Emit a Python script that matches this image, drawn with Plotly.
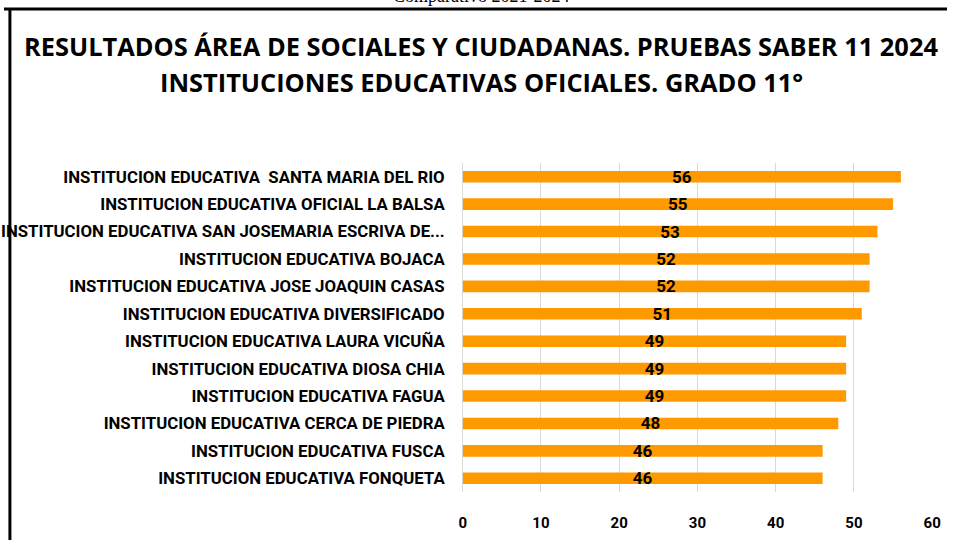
import plotly.graph_objects as go

instituciones = [
    "INSTITUCION EDUCATIVA  SANTA MARIA DEL RIO",
    "INSTITUCION EDUCATIVA OFICIAL LA BALSA",
    "INSTITUCION EDUCATIVA SAN JOSEMARIA ESCRIVA DE...",
    "INSTITUCION EDUCATIVA BOJACA",
    "INSTITUCION EDUCATIVA JOSE JOAQUIN CASAS",
    "INSTITUCION EDUCATIVA DIVERSIFICADO",
    "INSTITUCION EDUCATIVA LAURA VICUÑA",
    "INSTITUCION EDUCATIVA DIOSA CHIA",
    "INSTITUCION EDUCATIVA FAGUA",
    "INSTITUCION EDUCATIVA CERCA DE PIEDRA",
    "INSTITUCION EDUCATIVA FUSCA",
    "INSTITUCION EDUCATIVA FONQUETA",
]
puntajes = [56, 55, 53, 52, 52, 51, 49, 49, 49, 48, 46, 46]
x_ticks = [0, 10, 20, 30, 40, 50, 60]

W, H = 956, 540

fig = go.Figure(go.Bar(
    y=instituciones,
    x=puntajes,
    orientation="h",
    marker=dict(color="#FF9900", line=dict(width=0)),
    width=0.42,
    text=[str(v) for v in puntajes],
    textposition="inside",
    insidetextanchor="middle",
    constraintext="none",
    textangle=0,
    textfont=dict(family="Roboto", size=17, color="#000000", weight="bold"),
    cliponaxis=False,
))

fig.update_layout(
    width=W, height=H,
    autosize=False,
    margin=dict(l=0, r=0, t=0, b=0),
    paper_bgcolor="white",
    plot_bgcolor="white",
    showlegend=False,
    xaxis=dict(
        domain=[465 / W, 941 / W],
        range=[0, 60],
        tickvals=x_ticks,
        showgrid=True,
        gridcolor="#D9D9D9",
        gridwidth=1,
        zeroline=True,
        zerolinecolor="#D9D9D9",
        zerolinewidth=1,
        showline=False,
        ticks="",
        ticklabelstandoff=20,
        tickfont=dict(family="Roboto", size=15, color="#000000", weight="bold"),
        fixedrange=True,
    ),
    yaxis=dict(
        domain=[(H - 492) / H, (H - 163) / H],
        autorange="reversed",
        showgrid=False,
        showline=False,
        ticks="",
        ticklabelstandoff=17,
        tickfont=dict(family="Roboto", size=16.8, color="#000000", weight="bold"),
        fixedrange=True,
    ),
    shapes=[
        dict(type="line", xref="paper", yref="paper", x0=0, x1=1,
             y0=1 - 9 / H, y1=1 - 9 / H, line=dict(color="#000000", width=3)),
        dict(type="line", xref="paper", yref="paper", x0=6 / W, x1=6 / W,
             y0=0, y1=1 - 9 / H, line=dict(color="#000000", width=3)),
    ],
    annotations=[
        dict(text="Comparativo 2021-2024", xref="paper", yref="paper",
             x=484 / W, y=1 + 4 / H, xanchor="center", yanchor="middle",
             showarrow=False,
             font=dict(family="Liberation Serif", size=18, color="#000000")),
        dict(text="RESULTADOS ÁREA DE SOCIALES Y CIUDADANAS. PRUEBAS SABER 11 2024",
             xref="paper", yref="paper", x=484 / W, y=1 - 46 / H,
             xanchor="center", yanchor="middle", showarrow=False,
             font=dict(family="Open Sans", size=25.4, color="#000000", weight="bold")),
        dict(text="INSTITUCIONES EDUCATIVAS OFICIALES. GRADO 11°",
             xref="paper", yref="paper", x=484 / W, y=1 - 82 / H,
             xanchor="center", yanchor="middle", showarrow=False,
             font=dict(family="Open Sans", size=25.4, color="#000000", weight="bold")),
    ],
)

post = (
    "document.documentElement.style.margin='0';"
    "document.documentElement.style.overflow='hidden';"
    "document.body.style.margin='0';"
    "document.body.style.overflow='hidden';"
)

fig.write_html(
    "out.html",
    config={"displayModeBar": False, "responsive": False},
    post_script=post,
)
